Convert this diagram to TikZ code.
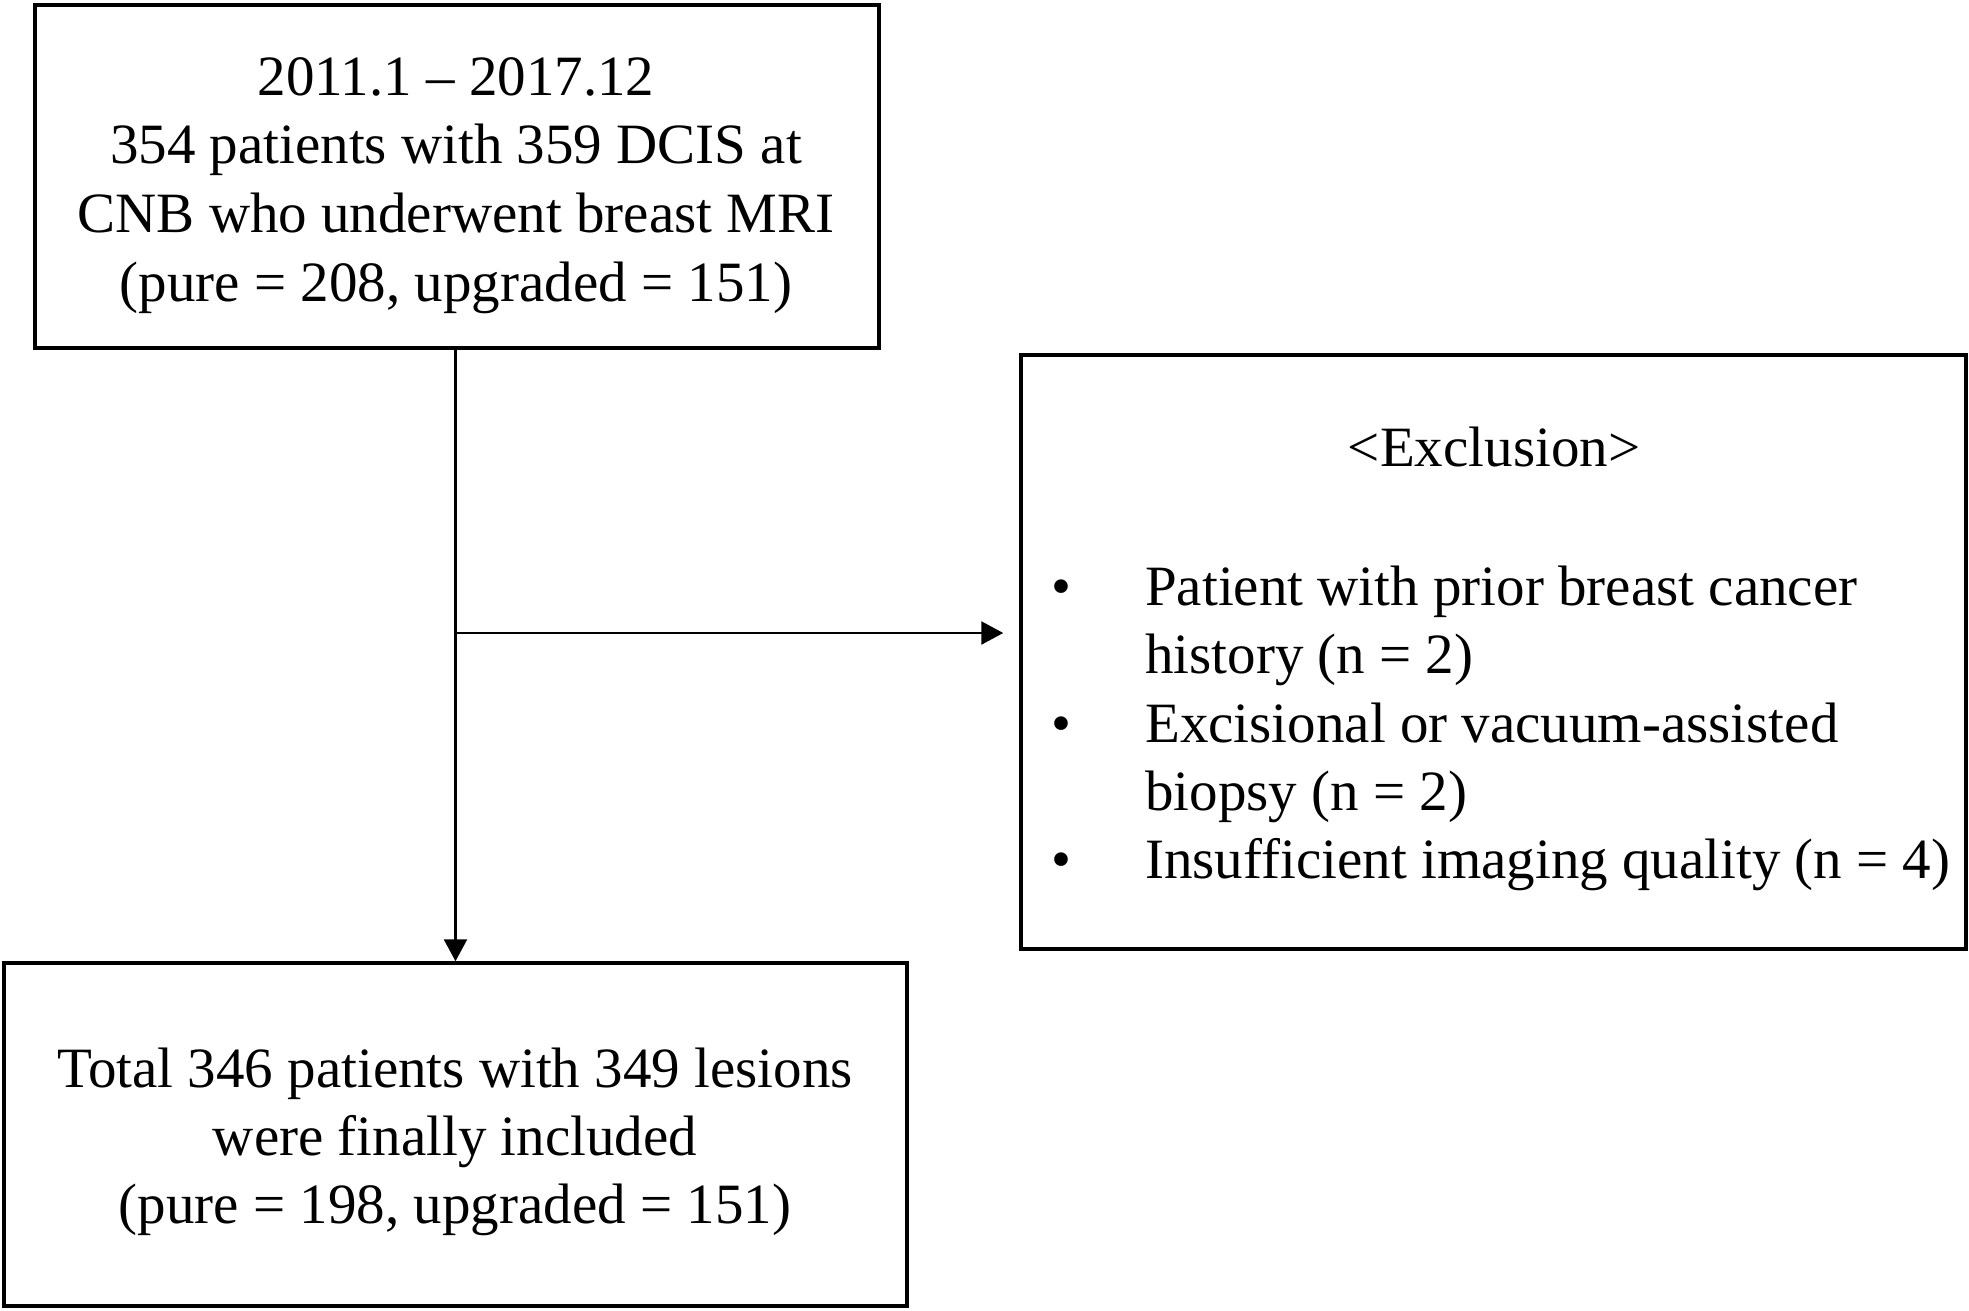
\documentclass[tikz,border=0pt]{standalone}
\usepackage{fontspec}
\setmainfont{Liberation Serif}
\usetikzlibrary{arrows.meta}
\tikzset{
  box/.style={draw=black, line width=3.5pt, rectangle, inner sep=0pt},
  txt/.style={inner sep=0pt, anchor=base, font=\fontsize{57}{68}\selectfont},
  ltxt/.style={inner sep=0pt, anchor=base west, font=\fontsize{57}{68}\selectfont},
  conn/.style={draw=black, line width=2.5pt},
  tip/.style={-{Triangle[length=22pt,width=23pt]}}
}
\begin{document}
\begin{tikzpicture}[x=1pt,y=-1pt]
\useasboundingbox (0,0) rectangle (1969,1310);
% boxes
\node[box, minimum width=844pt, minimum height=343pt] (top) at (457,176.5) {};
\node[box, minimum width=903pt, minimum height=343pt] (bot) at (455.5,1134.5) {};
\node[box, minimum width=945pt, minimum height=594pt] (excl) at (1493.5,652) {};
% top text
\node[txt] (t1) at (456,95) {2011.1 – 2017.12};
\node[txt] (t2) at (456,163) {354 patients with 359 DCIS at};
\node[txt] (t3) at (456,232) {CNB who underwent breast MRI};
\node[txt] (t4) at (456,301) {(pure = 208, upgraded = 151)};
% bottom text
\node[txt] (b1) at (455,1087) {Total 346 patients with 349 lesions};
\node[txt] (b2) at (455,1155) {were finally included};
\node[txt] (b3) at (455,1223) {(pure = 198, upgraded = 151)};
% exclusion text
\node[txt] (e0) at (1494,466) {<Exclusion>};
\node[txt] (d1) at (1061,605) {•};
\node[txt] (d2) at (1061,742) {•};
\node[txt] (d3) at (1061,878) {•};
\node[ltxt] (e1) at (1145,605) {Patient with prior breast cancer};
\node[ltxt] (e2) at (1145,673) {history (n = 2)};
\node[ltxt] (e3) at (1145,742) {Excisional or vacuum-assisted};
\node[ltxt] (e4) at (1145,810) {biopsy (n = 2)};
\node[ltxt] (e5) at (1145,878) {Insufficient imaging quality (n = 4)};
% connectors
\coordinate (br) at (bot.north |- 0,633);
\draw[conn, tip] (bot.north |- top.south) -- (bot.north);
\draw[conn, tip, shorten >=16pt] (br) -- (excl.west |- br);
\end{tikzpicture}
\end{document}
